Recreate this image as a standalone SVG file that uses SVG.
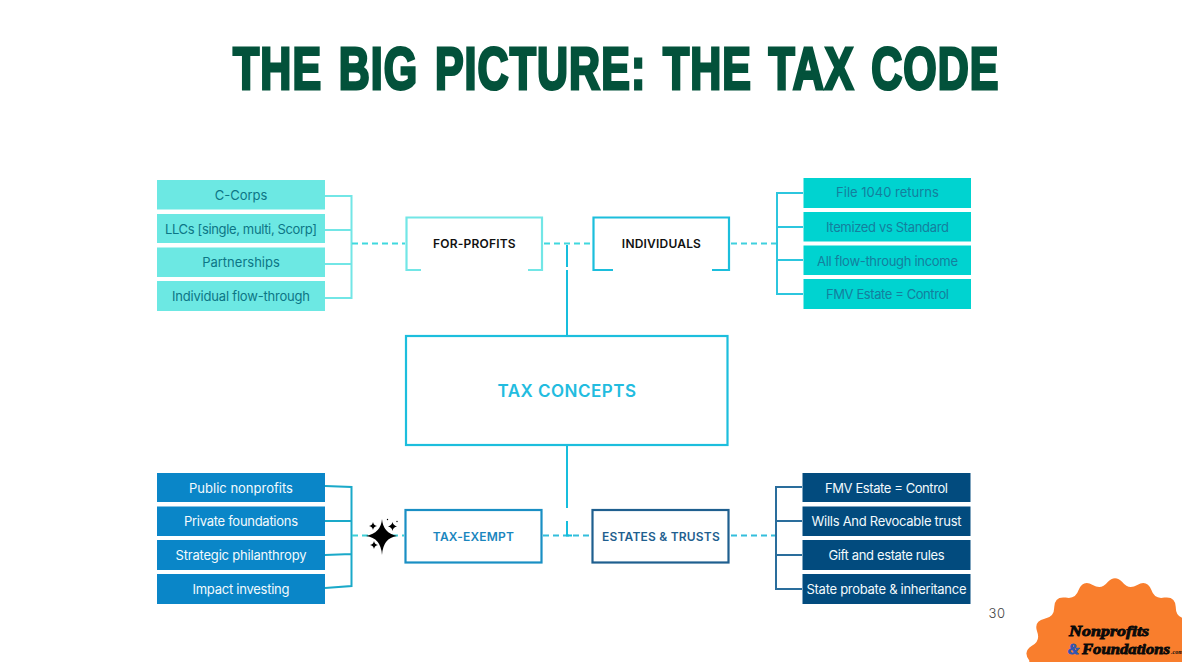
<svg xmlns="http://www.w3.org/2000/svg" width="1182" height="662" viewBox="0 0 1182 662">
<style>
text{font-family:"Inter","Liberation Sans",sans-serif;text-anchor:middle}
.t{font-size:13px;font-weight:400}
.h{font-size:12px;font-weight:600;letter-spacing:.2px}
.a{fill:#6CE8E3}.b{fill:#00D3D0}.c{fill:#0A86C8}.d{fill:#024B7E}
.ta{fill:#0C7686}.tb{fill:#147F9E}.tw{fill:#F2FAFD}
.box{fill:#fff;stroke-width:2.2}
.ln{fill:none;stroke-width:2}
.ds{fill:none;stroke-width:2;stroke-dasharray:6 4}
.lg{font-family:"Liberation Serif",serif;text-anchor:start;font-size:14.500px;font-weight:700;font-style:italic}
</style>
<rect width="1182" height="662" fill="#fff"/>
<text id="title" transform="translate(233 89) scale(.716 1)" font-size="60" font-weight="700" letter-spacing="1.500" word-spacing="5" style="font-family:'Liberation Sans',sans-serif;text-anchor:start;fill:#03523B;stroke:#03523B;stroke-width:3">THE BIG PICTURE: THE TAX CODE</text>
<g id="connectors">
<path class="ln" stroke="#72E6E6" d="M325 196H351.500V298H325M325 230H351.500M325 264H351.500"/>
<path class="ds" stroke="#3FD8DE" d="M352 243.500H405M544 243.500H592"/>
<path class="ds" stroke="#3FD0DE" d="M731 243.500H776"/>
<path class="ln" stroke="#2CC6DE" d="M803 193H777V294H803M777 227H803M777 260H803"/>
<path class="ln" stroke="#16BEDD" d="M567 245V267M567 270V336"/>
<path class="ln" stroke="#1AA9C9" d="M325 486L351.500 487V586L325 588M325 521H351.500M325 555L351.500 554"/>
<path class="ds" stroke="#3CCFD8" d="M352 535.500H404"/>
<path class="ds" stroke="#33BEDC" d="M543 535.500H590M731 535.500H776"/>
<path class="ln" stroke="#16BEDD" d="M567 445V508M567 521V535.500H572"/>
<path class="ln" stroke="#2A6D9C" d="M802 487H776V589H802M776 521H802M776 555H802"/>
</g>
<g id="n-c-corps"><rect class="a" x="157" y="180" width="168" height="29.500"/><text class="t ta" x="241" y="200">C-Corps</text></g>
<g id="n-llcs"><rect class="a" x="157" y="214" width="168" height="29"/><text class="t ta" x="241" y="233.500" textLength="152">LLCs [single, multi, Scorp]</text></g>
<g id="n-partnerships"><rect class="a" x="157" y="247.500" width="168" height="29.500"/><text class="t ta" x="241" y="267">Partnerships</text></g>
<g id="n-flow"><rect class="a" x="157" y="281" width="168" height="30"/><text class="t ta" x="241" y="301" textLength="138">Individual flow-through</text></g>
<g id="n-1040"><rect class="b" x="803.500" y="178" width="167.500" height="30"/><text class="t tb" x="887.500" y="197">File 1040 returns</text></g>
<g id="n-itemized"><rect class="b" x="803.500" y="212" width="167.500" height="29.500"/><text class="t tb" x="887.500" y="232" textLength="123">Itemized vs Standard</text></g>
<g id="n-allflow"><rect class="b" x="803.500" y="245.500" width="167.500" height="29.500"/><text class="t tb" x="887.500" y="265.500" textLength="141">All flow-through income</text></g>
<g id="n-fmv1"><rect class="b" x="803.500" y="279" width="167.500" height="30"/><text class="t tb" x="887.500" y="299" textLength="123">FMV Estate = Control</text></g>
<g id="n-public"><rect class="c" x="157" y="473" width="168" height="29"/><text class="t tw" x="241" y="492.500">Public nonprofits</text></g>
<g id="n-private"><rect class="c" x="157" y="506.500" width="168" height="29.500"/><text class="t tw" x="241" y="526" textLength="114">Private foundations</text></g>
<g id="n-strategic"><rect class="c" x="157" y="540" width="168" height="30"/><text class="t tw" x="241" y="560" textLength="131">Strategic philanthropy</text></g>
<g id="n-impact"><rect class="c" x="157" y="574" width="168" height="30"/><text class="t tw" x="241" y="594" textLength="97">Impact investing</text></g>
<g id="n-fmv2"><rect class="d" x="802.500" y="473" width="168" height="29"/><text class="t tw" x="886.500" y="492.500" textLength="123">FMV Estate = Control</text></g>
<g id="n-wills"><rect class="d" x="802.500" y="506.500" width="168" height="29.500"/><text class="t tw" x="886.500" y="526" textLength="150">Wills And Revocable trust</text></g>
<g id="n-gift"><rect class="d" x="802.500" y="540" width="168" height="30"/><text class="t tw" x="886.500" y="560" textLength="116">Gift and estate rules</text></g>
<g id="n-state"><rect class="d" x="802.500" y="574" width="168" height="30"/><text class="t tw" x="886.500" y="594" textLength="160">State probate &amp; inheritance</text></g>
<g id="n-forprofits"><path fill="#fff" stroke="#72E6E6" stroke-width="2.200" d="M421 270H406.500V217.500H542V270H528"/><text class="h" x="474.500" y="248" fill="#111">FOR-PROFITS</text></g>
<g id="n-individuals"><path fill="#fff" stroke="#1CBEDC" stroke-width="2.200" d="M613 270H593.500V217.500H729V270H712"/><text class="h" x="661.500" y="248" fill="#111">INDIVIDUALS</text></g>
<g id="n-concepts"><rect class="box" x="406" y="336" width="321.500" height="109" stroke="#1CBEDD"/><text x="567" y="397" font-size="17" font-weight="600" letter-spacing=".5" fill="#22BCDF">TAX CONCEPTS</text></g>
<g id="n-exempt"><rect class="box" x="405.500" y="510" width="136" height="52.500" stroke="#1A8FC4"/><text class="h" x="473.500" y="540.500" fill="#1A86BE">TAX-EXEMPT</text></g>
<g id="n-estates"><rect class="box" x="592.500" y="510" width="136" height="52.500" stroke="#1F5F8F"/><text class="h" x="661" y="540.500" fill="#1F5F8F">ESTATES &amp; TRUSTS</text></g>
<g id="sparkle" fill="#000">
<path d="M382 519Q383 533 397 536Q383 538 382 555Q381 538 366 536Q381 533 382 519Z"/>
<path d="M373 522Q373.600 525.400 377 526Q373.600 526.600 373 530Q372.400 526.600 369 526Q372.400 525.400 373 522Z"/>
<path d="M392.500 522Q393.100 525.400 397 526.500Q393.100 527.100 392.500 531Q391.900 527.100 388 526.500Q391.900 525.400 392.500 522Z"/>
<path d="M374 541Q374.600 544.400 378 545Q374.600 545.600 374 549Q373.400 545.600 370 545Q373.400 544.400 374 541Z"/>
<circle cx="387.500" cy="519.500" r=".7"/><circle cx="397" cy="521.500" r=".7"/>
</g>
<g id="page"><text x="997" y="618" font-size="13" font-weight="300" fill="#444" letter-spacing=".5">30</text></g>
<g id="logo">
<path fill="#F97E2D" d="M1029.300 668V660.500Q1022.400 651.700 1031.900 645.700Q1040.700 641 1037.100 631.600Q1033.600 621 1044.600 618.700Q1054.500 617.200 1054.200 607.200Q1054.600 596 1065.700 597.600Q1075.500 599.600 1078.600 590.100Q1082.900 579.600 1092.700 584.900Q1101.300 590.200 1107.500 582.300Q1115 574 1122.500 582.300Q1128.700 590.200 1137.300 584.900Q1147.100 579.600 1151.400 590.100Q1154.500 599.600 1164.300 597.600Q1175.400 596 1175.800 607.200Q1175.500 617.200 1185.400 618.700V668Z"/>
<text class="lg" x="1069" y="636" fill="#0a0a0a" stroke="#0a0a0a" stroke-width=".8" textLength="80" lengthAdjust="spacingAndGlyphs">Nonprofits</text>
<text class="lg" x="1068" y="654" fill="#2B55B5" stroke="#2B55B5" stroke-width=".8">&amp;</text>
<text class="lg" x="1082" y="654" fill="#0a0a0a" stroke="#0a0a0a" stroke-width=".8" textLength="88" lengthAdjust="spacingAndGlyphs">Foundations</text>
<text x="1171" y="654" font-size="6" font-weight="700" font-style="italic" style="font-family:'Liberation Serif',serif;text-anchor:start" fill="#0a0a0a">.com</text>
</g>
</svg>
